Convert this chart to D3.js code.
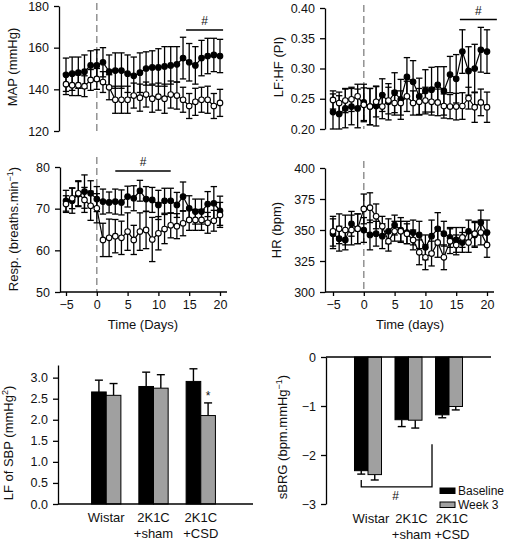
<!DOCTYPE html>
<html><head><meta charset="utf-8">
<script src="https://cdn.jsdelivr.net/npm/d3@7"></script>
<style>
body{margin:0;background:#fff;}
svg{display:block;font-family:"Liberation Sans",Arial,Helvetica,sans-serif;}
</style></head><body>
<svg id="c" width="517" height="545"></svg>
<script>
// ---------- DATA ----------
const days = [-5,-4,-3,-2,-1,0,1,2,3,4,5,6,7,8,9,10,11,12,13,14,15,16,17,18,19,20];
const dayTicks = [-5,0,5,10,15,20];

const mapCSD   = [147,147.5,148,148.5,151.5,151.5,153,148.5,149,149,147.5,146.5,148,150,150.5,150.5,151,151.5,152,155,153,151.5,155,156,156.5,156];
const mapCSDe  = [8,8,7.5,8,7,7.5,7,8,8.5,8.5,9,9,9.5,8,8,9,9.5,9,8.5,10,9,9,8.5,8.5,8,8];
const mapSham  = [142.5,142,142,141.5,144.5,145,143.5,141,135,135,135,137,136,137.5,135.5,136.5,135.5,137.5,137,135,132,134,135,135,132,133.5];
const mapShame = [5,5,5,5,5,5,5,6,6.5,6.5,6.5,6,6.5,6,6.5,6.5,7,6.5,6.5,6,6,6.5,6,6.5,6,6.5];

const lfhfCSD   = [0.228,0.225,0.234,0.237,0.234,0.244,0.237,0.238,0.256,0.245,0.260,0.249,0.286,0.278,0.254,0.263,0.265,0.273,0.263,0.290,0.283,0.328,0.296,0.300,0.331,0.328];
const lfhfCSDe  = [0.03,0.03,0.032,0.03,0.032,0.03,0.03,0.033,0.027,0.03,0.033,0.033,0.032,0.035,0.03,0.035,0.037,0.03,0.04,0.03,0.04,0.036,0.04,0.04,0.037,0.036];
const lfhfSham  = [0.248,0.243,0.247,0.249,0.254,0.240,0.237,0.245,0.237,0.247,0.243,0.243,0.254,0.243,0.245,0.247,0.245,0.244,0.238,0.237,0.237,0.238,0.251,0.236,0.244,0.236];
const lfhfShame = [0.015,0.018,0.02,0.02,0.02,0.028,0.03,0.025,0.02,0.022,0.02,0.02,0.025,0.02,0.022,0.022,0.022,0.022,0.02,0.02,0.022,0.022,0.018,0.025,0.022,0.025];

const respCSD   = [71.9,71.9,73.5,74.1,73.7,72.3,71.7,71.5,71.7,71.5,72.9,72.5,74.3,72.3,72.1,70.9,71.9,71.9,70.9,72.9,70.1,69.3,69.3,71.1,71.3,69.5];
const respCSDe  = [2.5,3,3,4,3,3,3,2.5,3,3,2.5,3,2.5,3,3,3.5,3,3,3,3.5,3,3,3,3,4,3.5];
const respSham  = [71.1,72.5,73.7,72.1,70.7,70.1,62.5,63,63.4,63,64.5,62.5,64.5,64.9,62.6,64.1,65.1,66,65.8,66.5,67.3,67.3,67.3,66.6,67.1,68.5];
const respShame = [2,2.5,3,3,3.5,3.5,4,4.5,4,4,4.5,3.5,4.5,4.5,5.3,4,3.5,3,3,3,2.5,2.5,2.5,2.5,2.5,3];

const hrCSD   = [347,343,342,355,351,350,346,347,345,349,354,350,348,348,346,336,345,351,347,344,342,340,349,346,356,348];
const hrCSDe  = [12,10,8,10,12,10,12,10,10,10,8,10,9,10,11,10,13,13,10,8,10,8,9,10,10,10];
const hrSham  = [349,351,350,350,351,367,368,361,353,341,349,349,347,342,332,328,331,340,328,341,338,344,340,347,348,338];
const hrShame = [12,12,12,12,12,12,12,10,8,8,8,8,8,8,10,10,10,12,10,10,8,8,8,10,10,10];

const groups = ['Wistar','2K1C+sham','2K1C+CSD'];
const groupLabels = [['Wistar'],['2K1C','+sham'],['2K1C','+CSD']];
const periods = ['Baseline','Week 3'];
const lfBase = [2.66,2.79,2.91], lfBaseErr = [0.28,0.34,0.30];
const lfWk3  = [2.58,2.75,2.10], lfWk3Err  = [0.28,0.32,0.30];
const brgBase = [-2.32,-1.28,-1.18], brgBaseErr = [0.07,0.14,0.06];
const brgWk3  = [-2.40,-1.29,-1.01], brgWk3Err  = [0.11,0.16,0.07];

// ---------- DRAW ----------
const svg = d3.select('#c');
const minus = s => String(s).replace('-', '\u2212');

function yTitle(x, y, parts) {
  const t = svg.append('text').attr('transform', `translate(${x},${y}) rotate(-90)`)
    .attr('text-anchor','middle').attr('font-size',13).attr('fill','#111');
  let shift = 0;
  parts.forEach(p => {
    const sup = Array.isArray(p);
    const s = sup ? p[0] : p;
    const ts = t.append('tspan').text(s);
    if (sup) { ts.attr('font-size',9).attr('dy', -5 - shift); shift = -5; }
    else { if (shift) ts.attr('dy', -shift); shift = 0; }
  });
}

function styleAxis(g) {
  g.selectAll('path,line').attr('stroke','#000').attr('stroke-width',1.3);
  g.selectAll('text').attr('font-size',12.5).attr('fill','#111')
    .attr('font-family','"Liberation Sans", Arial, Helvetica, sans-serif');
}

function linePanel(o) {
  const x = d3.scaleLinear().domain([-5,20]).range(o.xr);
  const y = d3.scaleLinear().domain(o.yd).range(o.yr);
  const g = svg.append('g');
  g.append('line').attr('x1',x(0)).attr('x2',x(0)).attr('y1',o.dashTop).attr('y2',o.yr[0])
    .attr('stroke','#8a8a8a').attr('stroke-width',1.4).attr('stroke-dasharray','7,4');
  const ya = d3.axisLeft(y).tickValues(o.ticks).tickFormat(o.fmt).tickSize(5).tickPadding(5).tickSizeOuter(0);
  g.append('g').attr('transform',`translate(${o.ax},0)`).call(ya).call(styleAxis);
  if (o.xaxis) {
    const xa = d3.axisBottom(x).tickValues(dayTicks).tickFormat(minus).tickSize(4).tickPadding(4);
    const xg = g.append('g').attr('transform',`translate(0,${o.yr[0]})`).call(xa).call(styleAxis);
    xg.select('.domain').remove();
    g.append('line').attr('x1',o.ax).attr('x2',o.xr[1]+7).attr('y1',o.yr[0]).attr('y2',o.yr[0])
      .attr('stroke','#000').attr('stroke-width',1.3);
    g.append('text').attr('x',(o.xr[0]+o.xr[1])/2).attr('y',o.yr[0]+37).attr('text-anchor','middle')
      .attr('font-size',13).attr('fill','#111').text(o.xtitle);
  }
  o.series.forEach(s => {
    const sg = g.append('g');
    days.forEach((d,i) => {
      const v = s.v[i], e = s.e[i];
      const lo = Math.max(v - e, o.yd[0]);
      sg.append('line').attr('x1',x(d)).attr('x2',x(d)).attr('y1',y(lo)).attr('y2',y(v+e))
        .attr('stroke','#000').attr('stroke-width',1.3);
      [v+e, lo].forEach(c => sg.append('line').attr('x1',x(d)-3.2).attr('x2',x(d)+3.2)
        .attr('y1',y(c)).attr('y2',y(c)).attr('stroke','#000').attr('stroke-width',1.3));
    });
    sg.append('path').datum(s.v).attr('fill','none').attr('stroke','#000').attr('stroke-width',1.2)
      .attr('d', d3.line().x((v,i)=>x(days[i])).y(v=>y(v)));
    sg.selectAll('circle').data(s.v).join('circle').attr('cx',(v,i)=>x(days[i])).attr('cy',v=>y(v))
      .attr('r',2.8).attr('fill',s.open?'#fff':'#000').attr('stroke','#000').attr('stroke-width',1.1);
  });
  if (o.sig) {
    g.append('line').attr('x1',x(o.sig[0])).attr('x2',x(o.sig[1])).attr('y1',o.sigY).attr('y2',o.sigY)
      .attr('stroke','#000').attr('stroke-width',1.3);
    g.append('text').attr('x',(x(o.sig[0])+x(o.sig[1]))/2).attr('y',o.sigY-5).attr('text-anchor','middle')
      .attr('font-size',12).attr('fill','#111').text('#');
  }
}

linePanel({xr:[66,220], yd:[120,180], yr:[131,6], ax:59, ticks:[120,140,160,180], fmt:d3.format('d'),
  dashTop:3, series:[{v:mapCSD,e:mapCSDe},{v:mapSham,e:mapShame,open:true}], sig:[14.5,20.5], sigY:30});
yTitle(17, 67, ['MAP (mmHg)']);

linePanel({xr:[333,487], yd:[0.2,0.4], yr:[129,8], ax:325, ticks:[0.2,0.25,0.3,0.35,0.4], fmt:d3.format('.2f'),
  dashTop:5, series:[{v:lfhfCSD,e:lfhfCSDe},{v:lfhfSham,e:lfhfShame,open:true}], sig:[15.6,21.6], sigY:19.5});
yTitle(283, 67, ['LF:HF (PI)']);

linePanel({xr:[66,220], yd:[50,80], yr:[292,167], ax:60, ticks:[50,60,70,80], fmt:d3.format('d'),
  dashTop:157, xaxis:true, xtitle:'Time (Days)',
  series:[{v:respCSD,e:respCSDe},{v:respSham,e:respShame,open:true}], sig:[3,12], sigY:171});
yTitle(18, 229, ['Resp. (breaths.min',['\u22121'],')']);

linePanel({xr:[333,487], yd:[300,400], yr:[292,168], ax:325, ticks:[300,325,350,375,400], fmt:d3.format('d'),
  dashTop:161, xaxis:true, xtitle:'Time (days)',
  series:[{v:hrCSD,e:hrCSDe},{v:hrSham,e:hrShame,open:true}]});
yTitle(281, 230, ['HR (bpm)']);

// ---------- Bar charts ----------
const fills = {'Baseline':'#000','Week 3':'#a0a0a0'};

function barPanel(o) {
  const x0 = d3.scaleBand().domain(groups).range(o.xr).paddingInner(o.pad).paddingOuter(o.pad/2);
  const x1 = d3.scaleBand().domain(periods).range([0, x0.bandwidth()]);
  const y = d3.scaleLinear().domain(o.yd).range(o.yr);
  const g = svg.append('g');
  const vals = {'Baseline':o.base, 'Week 3':o.wk3};
  const errs = {'Baseline':o.baseE, 'Week 3':o.wk3E};
  groups.forEach((grp,gi) => {
    periods.forEach(p => {
      const v = vals[p][gi], e = errs[p][gi];
      const bx = x0(grp) + x1(p), bw = x1.bandwidth(), cx = bx + bw/2;
      const ve = v >= 0 ? v + e : v - e;
      g.append('line').attr('x1',cx).attr('x2',cx).attr('y1',y(v)).attr('y2',y(ve))
        .attr('stroke','#000').attr('stroke-width',1.4);
      g.append('line').attr('x1',cx-4).attr('x2',cx+4).attr('y1',y(ve)).attr('y2',y(ve))
        .attr('stroke','#000').attr('stroke-width',1.4);
      g.append('rect').attr('x',bx).attr('width',bw)
        .attr('y',Math.min(y(v),y(0))).attr('height',Math.abs(y(v)-y(0)))
        .attr('fill',fills[p]).attr('stroke','#000').attr('stroke-width',1);
    });
    const lx = x0(grp) + x0.bandwidth()/2 + o.labelShift;
    groupLabels[gi].forEach((t,li) => g.append('text').attr('x',lx).attr('y',o.labelY + li*16.5)
      .attr('text-anchor','middle').attr('font-size',13).attr('fill','#111').text(t));
  });
  const ya = d3.axisLeft(y).tickValues(o.ticks).tickFormat(o.fmt).tickSize(5).tickPadding(5).tickSizeOuter(0);
  g.append('g').attr('transform',`translate(${o.ax},0)`).call(ya).call(styleAxis);
  g.append('line').attr('x1',o.ax).attr('x2',o.xEnd).attr('y1',y(0)).attr('y2',y(0))
    .attr('stroke','#000').attr('stroke-width',1.3);
  return {x0,x1,y,g};
}

const left = barPanel({xr:[82.6,224.4], pad:0.38, yd:[0,3.3], yr:[504,365], ax:58, xEnd:253,
  ticks:[0,0.5,1,1.5,2,2.5,3], fmt:d3.format('.1f'),
  base:lfBase, baseE:lfBaseErr, wk3:lfWk3, wk3E:lfWk3Err, labelY:521.5, labelShift:0});
{
  const {x0,x1,y,g} = left;
  const cx = x0('2K1C+CSD') + x1('Week 3') + x1.bandwidth()/2;
  g.append('text').attr('x',cx).attr('y',y(lfWk3[2]+lfWk3Err[2])-3).attr('text-anchor','middle')
    .attr('font-size',12).attr('fill','#111').text('*');
}
yTitle(13, 443, ['LF of SBP (mmHg',['2'],')']);

const right = barPanel({xr:[347.75,469.25], pad:0.333, yd:[-3,0], yr:[504,357], ax:326, xEnd:491,
  ticks:[-3,-2,-1,0], fmt:d => minus(d),
  base:brgBase, baseE:brgBaseErr, wk3:brgWk3, wk3E:brgWk3Err, labelY:522.5, labelShift:3});
{
  const {x0,x1,y,g} = right;
  const xa = x0('Wistar') + x1('Baseline') + x1.bandwidth()/2;
  const xb = x0('2K1C+sham') + x0.bandwidth() + 10;
  g.append('path').attr('fill','none').attr('stroke','#000').attr('stroke-width',1.3)
    .attr('d', `M${xa},${y(-2.51)}V${y(-2.65)}H${xb}V${y(-1.78)}`);
  g.append('text').attr('x',(xa+xb)/2 - 1).attr('y',y(-2.65)+13).attr('text-anchor','middle')
    .attr('font-size',12).attr('fill','#111').text('#');
  // legend
  const lg = g.append('g').attr('transform','translate(440,488)');
  periods.forEach((p,i) => {
    lg.append('rect').attr('x',0).attr('y',i*14).attr('width',15).attr('height',5.5)
      .attr('fill',fills[p]).attr('stroke','#000').attr('stroke-width',1);
    lg.append('text').attr('x',18).attr('y',i*14+7).attr('font-size',12).attr('fill','#111').text(p);
  });
}
yTitle(287, 437, ['sBRG (bpm.mmHg',['\u22121'],')']);
</script>
</body></html>
